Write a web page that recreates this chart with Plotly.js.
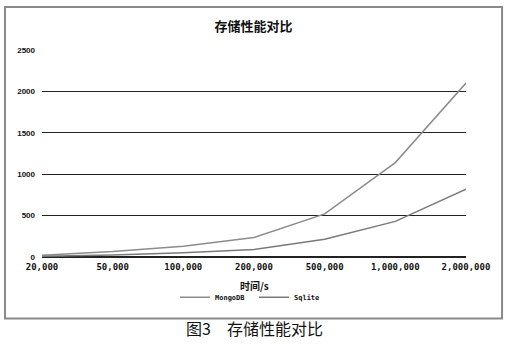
<!DOCTYPE html>
<html>
<head>
<meta charset="utf-8">
<script src="https://cdn.plot.ly/plotly-3.0.1.min.js"></script>
<style>html,body{margin:0;padding:0;background:#fff;}#chart{width:510px;height:358px;}</style>
</head>
<body>
<div id="chart"></div>
<script>
var categories = ["20,000", "50,000", "100,000", "200,000", "500,000", "1,000,000", "2,000,000"];
var mongoValues = [20, 65, 130, 235, 520, 1140, 2100];
var sqliteValues = [10, 25, 50, 92, 215, 430, 820];
var yTicks = [0, 500, 1000, 1500, 2000, 2500];
var chartTitle = "存储性能对比";
var xTitle = "时间/s";
var caption = "图3　存储性能对比";

var idx = categories.map(function (c, i) { return i; });

var traces = [
  { x: idx, y: mongoValues, name: "MongoDB", type: "scatter", mode: "lines",
    line: { color: "#8c8c8c", width: 1.5 } },
  { x: idx, y: sqliteValues, name: "Sqlite", type: "scatter", mode: "lines",
    line: { color: "#7a7a7a", width: 1.5 } }
];

var layout = {
  width: 510, height: 358,
  margin: { l: 42, r: 44, t: 50, b: 101.3 },
  paper_bgcolor: "#fff", plot_bgcolor: "#fff",
  title: { text: chartTitle, x: 0.497, xanchor: "center", y: 0.925, yanchor: "middle",
    font: { family: "Noto Sans CJK SC", size: 13, color: "#111", weight: "bold" } },
  xaxis: {
    type: "linear", range: [0, 6], tickvals: idx, ticktext: categories,
    showgrid: false, zeroline: false, showline: false, ticks: "",
    tickfont: { family: "DejaVu Sans Mono", size: 9, color: "#111", weight: "bold" },
    ticklabelstandoff: 3, fixedrange: true
  },
  yaxis: {
    range: [0, 2500], tickvals: yTicks, ticks: "",
    showgrid: true, gridcolor: "#222", gridwidth: 1.3,
    zeroline: true, zerolinecolor: "#222", zerolinewidth: 2.5,
    showline: false,
    tickfont: { family: "Liberation Sans", size: 8, color: "#111", weight: "bold" },
    ticklabelstandoff: 6, fixedrange: true
  },
  showlegend: true,
  legend: {
    orientation: "h", x: 0.5, xanchor: "center", y: -0.195, yanchor: "middle",
    font: { family: "DejaVu Sans Mono", size: 7, color: "#111", weight: "bold" },
    itemwidth: 30, entrywidth: 34, entrywidthmode: "pixels",
    tracegroupgap: 0, bgcolor: "rgba(0,0,0,0)"
  },
  annotations: [
    { text: xTitle, xref: "paper", yref: "paper", x: 0.5, y: -0.137, xanchor: "center", yanchor: "middle",
      showarrow: false, font: { family: "Noto Sans CJK SC", size: 10, color: "#111", weight: "bold" } },
    { text: caption, xref: "paper", yref: "paper", x: 0.5, y: -0.345, xanchor: "center", yanchor: "middle",
      showarrow: false, font: { family: "Noto Sans CJK SC", size: 16, color: "#111" } }
  ],
  shapes: [
    { type: "rect", xref: "paper", yref: "paper", x0: -0.0873, x1: 1.085, y0: -0.2966, y1: 1.208,
      line: { color: "#8a8a8a", width: 2 }, fillcolor: "rgba(0,0,0,0)" }
  ]
};

Plotly.newPlot("chart", traces, layout, { displayModeBar: false, staticPlot: true });
</script>
</body>
</html>
